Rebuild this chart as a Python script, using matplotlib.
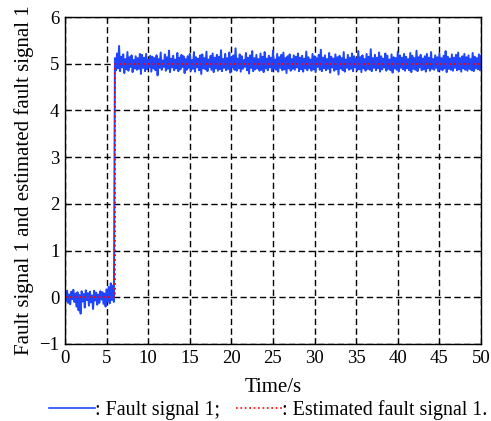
import matplotlib
matplotlib.use('Agg')
import matplotlib.pyplot as plt
import numpy as np

pre_fault = [0.10, -0.08, 0.14, -0.12, 0.06, -0.15, 0.12, -0.04, 0.16, -0.10,
             0.08, -0.20, 0.11, -0.28, 0.05, -0.35, 0.13, -0.09, 0.07, -0.22,
             0.15, -0.06, 0.09, -0.18, 0.12, -0.11, 0.04, -0.25, 0.14, -0.07,
             0.10, -0.16, 0.06, -0.12, 0.13, -0.05, 0.11, -0.14, 0.08, -0.20,
             0.17, -0.09, 0.22, -0.13, 0.30, -0.06, 0.25, -0.10]
post_fault = [5.12, 4.86, 5.22, 4.90, 5.38, 4.84, 5.15, 4.92, 5.20, 4.80,
              5.10, 4.88, 5.25, 4.85, 5.14, 4.93, 5.18, 4.82, 5.08, 4.90,
              5.16, 4.87, 5.12, 4.89, 5.21, 4.78, 5.19, 4.91, 5.13, 4.84,
              5.21, 4.88, 5.09, 4.92, 5.17, 4.83, 5.15, 4.90, 5.12, 4.86,
              5.18, 4.75, 5.10, 4.91, 5.24, 4.87, 5.07, 4.93, 5.20, 4.85,
              5.14, 4.89, 5.28, 4.82, 5.11, 4.92, 5.17, 4.86, 5.09, 4.90,
              5.23, 4.84, 5.13, 4.88, 5.19, 4.93, 5.16, 4.80, 5.10, 4.87,
              5.16, 4.91, 5.21, 4.85, 5.08, 4.89, 5.25, 4.83, 5.14, 4.92,
              5.11, 4.86, 5.18, 4.78, 5.20, 4.90, 5.12, 4.88, 5.26, 4.84,
              5.09, 4.93, 5.17, 4.87, 5.22, 4.82, 5.13, 4.90, 5.19, 4.85,
              5.15, 4.88, 5.29, 4.84, 5.10, 4.91, 5.21, 4.86, 5.12, 4.89,
              5.24, 4.81, 5.14, 4.92, 5.18, 4.87, 5.33, 4.85, 5.11, 4.90,
              5.20, 4.83, 5.16, 4.89, 5.08, 4.93, 5.23, 4.86, 5.13, 4.79,
              5.18, 4.91, 5.27, 4.84, 5.12, 4.88, 5.19, 4.90, 5.10, 4.85,
              5.22, 4.87, 5.15, 4.82, 5.25, 4.90, 5.11, 4.86, 5.17, 4.92,
              5.13, 4.84, 5.28, 4.89, 5.09, 4.87, 5.21, 4.83, 5.14, 4.91,
              5.19, 4.86, 5.24, 4.88, 5.12, 4.80, 5.16, 4.90, 5.20, 4.85,
              5.10, 4.89, 5.18, 4.87, 5.15, 4.92, 5.22, 4.84, 5.13, 4.88,
              5.17, 4.83, 5.11, 4.90, 5.26, 4.86, 5.14, 4.91, 5.09, 4.85,
              5.21, 4.88, 5.16, 4.82, 5.12, 4.93, 5.19, 4.87, 5.30, 4.84,
              5.13, 4.90, 5.18, 4.86, 5.10, 4.89, 5.23, 4.81, 5.15, 4.92,
              5.11, 4.85, 5.20, 4.88, 5.14, 4.77, 5.17, 4.90, 5.12, 4.86,
              5.25, 4.83, 5.09, 4.91, 5.19, 4.87, 5.13, 4.89, 5.22, 4.84,
              5.16, 4.92, 5.11, 4.86, 5.27, 4.88, 5.14, 4.82, 5.18, 4.90,
              5.10, 4.85, 5.21, 4.89, 5.15, 4.87, 5.31, 4.84, 5.12, 4.91,
              5.19, 4.86, 5.13, 4.90, 5.24, 4.83, 5.16, 4.88, 5.11, 4.92,
              5.22, 4.85, 5.17, 4.89, 5.09, 4.86, 5.20, 4.81, 5.14, 4.90,
              5.12, 4.87, 5.26, 4.84, 5.18, 4.91, 5.13, 4.88, 5.21, 4.85,
              5.15, 4.90, 5.10, 4.86, 5.23, 4.82, 5.17, 4.89, 5.12, 4.87,
              5.28, 4.84, 5.14, 4.92, 5.19, 4.86, 5.11, 4.88, 5.16, 4.83,
              5.21, 4.90, 5.13, 4.85, 5.25, 4.89, 5.10, 4.87, 5.18, 4.91,
              5.14, 4.84, 5.22, 4.88, 5.12, 4.86, 5.17, 4.90, 5.27, 4.82,
              5.15, 4.89, 5.11, 4.87, 5.20, 4.85, 5.13, 4.91, 5.19, 4.86,
              5.24, 4.88, 5.12, 4.83, 5.16, 4.90, 5.21, 4.87, 5.14, 4.85,
              5.18, 4.89, 5.10, 4.86, 5.23, 4.84, 5.15, 4.90, 5.12, 4.88,
              5.20, 4.86, 5.17]
fault_signal = pre_fault + post_fault
time = np.linspace(0, 50, len(fault_signal))

est_time = [0, 6, 6, 50]
est_signal = [0, 0, 5, 5]

plt.rcParams['font.family'] = ['Liberation Serif', 'DejaVu Serif']
plt.rcParams['axes.unicode_minus'] = True

fig = plt.figure(figsize=(4.91, 4.21), dpi=100)
ax = fig.add_axes([0.1324, 0.1829, 0.8472, 0.7767])

h1, = ax.plot(time, fault_signal, color='#1f45ff', linewidth=1.4)
h2, = ax.plot(est_time, est_signal, color='red', linestyle=':', linewidth=1.3)

ax.set_xlim(0, 50)
ax.set_ylim(-1, 6)
ax.set_xticks(np.arange(0, 51, 5))
ax.set_yticks(np.arange(-1, 7, 1))
ax.grid(True, color='black', linestyle=(0, (4.5, 2.5)), linewidth=1.0)
ax.tick_params(direction='in', top=True, right=True, length=4, pad=4,
               labelsize=13.5)
for s in ax.spines.values():
    s.set_linewidth(1.0)

ax.set_xlabel('Time/s', fontsize=15, labelpad=8)
ax.set_ylabel('Fault signal 1 and estimated fault signal 1', fontsize=15,
              labelpad=4)

leg = fig.legend([h1, h2], [': Fault signal 1;', ': Estimated fault signal 1.'],
                 loc='center', bbox_to_anchor=(0.546, 0.026), ncol=2,
                 frameon=False, handlelength=2.3, handletextpad=0.0,
                 columnspacing=0.8, fontsize=14.4)
for line in leg.get_lines():
    line.set_linewidth(1.2)

plt.savefig('out.png', dpi=100)
